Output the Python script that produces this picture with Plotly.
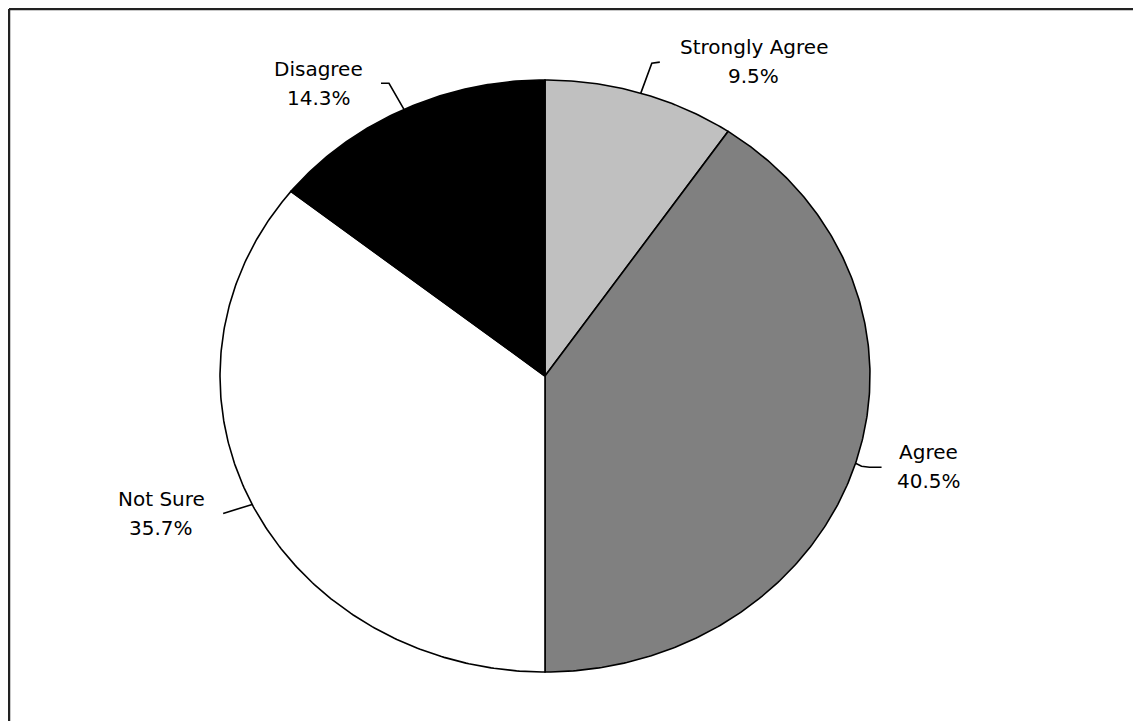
import numpy as np
import plotly.graph_objects as go

# ---- data ----
categories = ["Strongly Agree", "Agree", "Not Sure", "Disagree"]
counts = [4, 17, 15, 6]
pct_labels = ["9.5%", "40.5%", "35.7%", "14.3%"]
colors = ["#c0c0c0", "#808080", "#ffffff", "#000000"]

# ---- layout constants (pixel-like axis units, page coordinates) ----
W, H = 1141, 721
OFF = 8  # page body margin
CX, CY = 545, 376
RX, RY = 325, 296
FONT = dict(family="DejaVu Sans, Verdana, sans-serif", size=20, color="#000000")

# leader-line geometry relative to the slice mid-point on the rim (px offsets)
leader_offsets = [
    [(0, 0), (11, -30), (19, -31)],
    [(0, 0), (6, 3), (14, 4), (26, 4)],
    [(0, 0), (-13, 4), (-29, 9)],
    [(0, 0), (-15, -26), (-23, -26)],
]
label_offsets = [(113, -46), (73, -11), (-91, -5), (-85, -40)]
LINE_GAP = 29


def rim(theta_deg):
    t = np.radians(theta_deg)
    return CX + RX * np.sin(t), CY - RY * np.cos(t)


fig = go.Figure()
vals = np.array(counts, dtype=float)
fracs = vals / vals.sum()
starts = np.concatenate([[0], np.cumsum(fracs)[:-1]]) * 360
ends = np.cumsum(fracs) * 360

for i, cat in enumerate(categories):
    th = np.linspace(starts[i], ends[i], max(int((ends[i] - starts[i]) * 2), 8))
    ax, ay = rim(th)
    xs = np.concatenate([[CX], ax, [CX]])
    ys = np.concatenate([[CY], ay, [CY]])
    fig.add_trace(go.Scatter(
        x=xs, y=ys, mode="lines", fill="toself", fillcolor=colors[i],
        line=dict(color="#000000", width=1.6), hoverinfo="skip", showlegend=False,
        name=cat,
    ))

# leader lines and labels
for i, cat in enumerate(categories):
    mid = (starts[i] + ends[i]) / 2
    mx, my = rim(mid)
    lx = [mx + dx for dx, dy in leader_offsets[i]]
    ly = [my + dy for dx, dy in leader_offsets[i]]
    fig.add_trace(go.Scatter(x=lx, y=ly, mode="lines",
                             line=dict(color="#000000", width=1.6),
                             hoverinfo="skip", showlegend=False))
    tx, ty = mx + label_offsets[i][0], my + label_offsets[i][1]
    fig.add_annotation(x=tx, y=ty, text=cat, showarrow=False, font=FONT,
                       xanchor="center", yanchor="middle")
    fig.add_annotation(x=tx, y=ty + LINE_GAP, text=pct_labels[i], showarrow=False,
                       font=FONT, xanchor="center", yanchor="middle")

# frame (top and left edges)
fig.add_shape(type="line", xref="paper", yref="paper", x0=1 / W, x1=1, y0=1 - 1 / H, y1=1 - 1 / H,
              line=dict(color="#222222", width=2.5))
fig.add_shape(type="line", xref="paper", yref="paper", x0=1 / W, x1=1 / W, y0=0, y1=1 - 1 / H,
              line=dict(color="#222222", width=2.5))

fig.update_layout(
    width=W, height=H,
    margin=dict(l=0, r=0, t=0, b=0),
    paper_bgcolor="#ffffff", plot_bgcolor="#ffffff",
    xaxis=dict(range=[OFF, W + OFF], visible=False, fixedrange=True),
    yaxis=dict(range=[H + OFF, OFF], visible=False, fixedrange=True),
    showlegend=False,
)

fig.write_html("out.html")
